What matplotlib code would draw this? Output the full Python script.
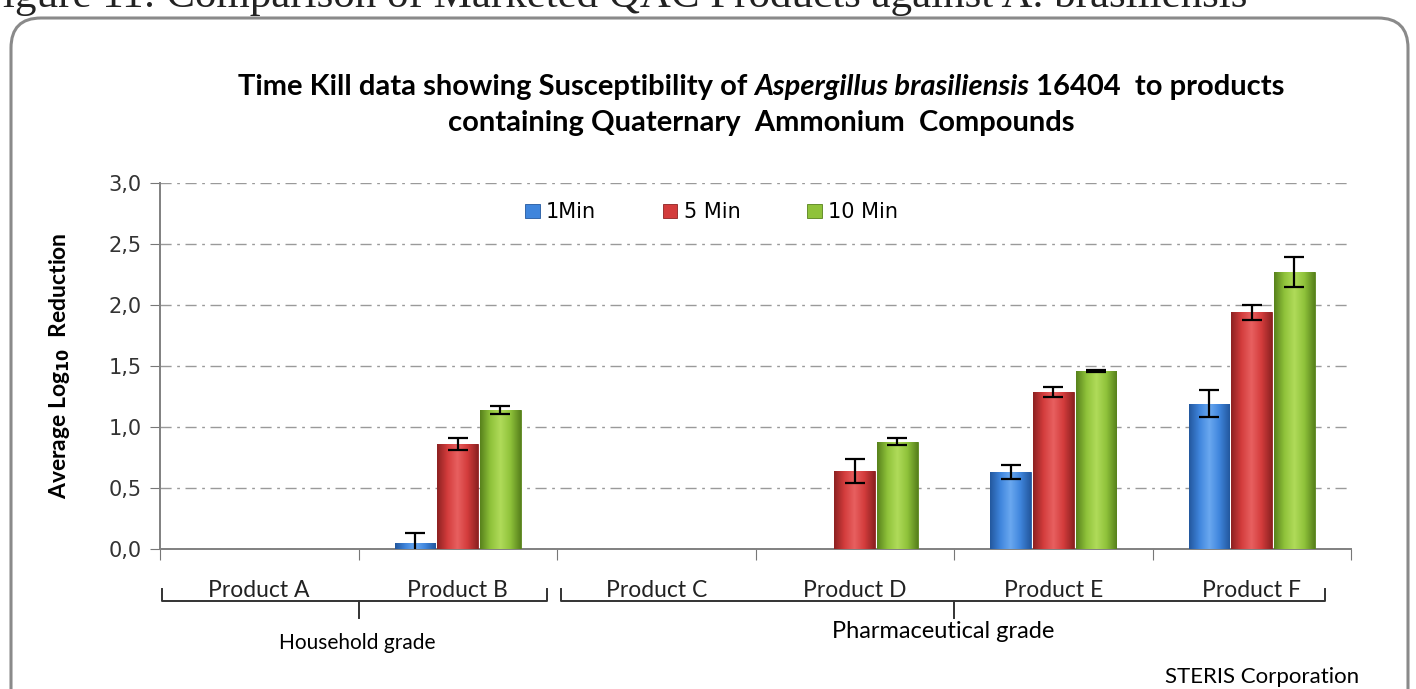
import numpy as np
from matplotlib import pyplot as plt
from matplotlib.patches import FancyBboxPatch
from matplotlib.lines import Line2D
from matplotlib.colors import LinearSegmentedColormap
from matplotlib.transforms import blended_transform_factory

# data
products = ["Product A", "Product B", "Product C", "Product D", "Product E", "Product F"]
series = ["1Min", "5 Min", "10 Min"]
vals_1min = [0.0, 0.05, 0.0, 0.0, 0.63, 1.19]
vals_5min = [0.0, 0.86, 0.0, 0.64, 1.29, 1.94]
vals_10min = [0.0, 1.14, 0.0, 0.88, 1.46, 2.27]
err_1min = [0.0, 0.08, 0.0, 0.0, 0.06, 0.11]
err_5min = [0.0, 0.05, 0.0, 0.10, 0.04, 0.06]
err_10min = [0.0, 0.03, 0.0, 0.03, 0.01, 0.12]
groups = [("Household grade", 0, 1), ("Pharmaceutical grade", 2, 5)]
yticks = [0.0, 0.5, 1.0, 1.5, 2.0, 2.5, 3.0]

colors = ["#3f85dc", "#d33c3c", "#8fc23a"]
darks = ["#23589f", "#8e2222", "#58821c"]
lights = ["#6aa8f0", "#e86060", "#b0db5a"]

W, H = 1416, 689
fig = plt.figure(figsize=(W / 100, H / 100), dpi=100)
fig.patch.set_facecolor("white")

# rounded frame of the chart area
frame = FancyBboxPatch((11, -40), 1397, 711, boxstyle="round,pad=0,rounding_size=30",
                       transform=None, facecolor="none", edgecolor="#8a8a8a", lw=2.2)
fig.add_artist(frame)

# caption above the frame (cut by the top edge, as in the source)
fig.text(-0.015, 1 - 7 / H, "Figure 11: Comparison of Marketed QAC Products against A. brasiliensis",
         ha="left", va="baseline", fontsize=31, family="Liberation Serif", color="#222222")

ax = fig.add_axes([160 / W, 140 / H, (1351 - 160) / W, 366 / H])

x = np.arange(len(products))
bw = 0.215
all_vals = [vals_1min, vals_5min, vals_10min]
all_errs = [err_1min, err_5min, err_10min]
prof = np.linspace(-1, 1, 64)
for i, (name, v, e) in enumerate(zip(series, all_vals, all_errs)):
    off = (i - 1) * bw
    bars = ax.bar(x + off, v, width=bw * 0.95, color=colors[i], edgecolor=darks[i],
                  linewidth=0.6, label=name, zorder=3)
    cmap = LinearSegmentedColormap.from_list("c%d" % i, [darks[i], colors[i], lights[i],
                                                         colors[i], darks[i]])
    grad = np.tile((prof + 1) / 2, (2, 1))
    for b in bars:
        if b.get_height() <= 0:
            continue
        bx, by = b.get_x(), b.get_y()
        im = ax.imshow(grad, cmap=cmap, aspect="auto", zorder=3.1,
                       extent=(bx, bx + b.get_width(), by, by + b.get_height()))
        im.set_clip_path(b)
    v = np.array(v)
    e = np.array(e)
    mask = e > 0
    ax.errorbar(x[mask] + off, v[mask], yerr=e[mask], fmt="none", ecolor="black",
                elinewidth=1.6, capsize=7, capthick=1.6, zorder=4)

ax.set_xlim(-0.5, len(products) - 0.5)
ax.set_ylim(0, 3.0)
ax.set_yticks(yticks)
ax.set_yticklabels([f"{t:.1f}".replace(".", ",") for t in yticks], fontsize=15,
                   family="DejaVu Sans", color="#333333")
ax.yaxis.grid(True, linestyle=(0, (8, 4, 2, 4)), color="#9a9a9a", linewidth=1.0)
ax.set_axisbelow(True)

ax.set_xticks(np.arange(-0.5, len(products)), minor=False)
ax.set_xticklabels([])
ax.set_xticks(x, minor=True)
ax.set_xticklabels(products, minor=True, fontsize=16.5, family="Lato", color="#222222")
ax.tick_params(axis="x", which="major", length=8, color="#777777", direction="out")
ax.tick_params(axis="x", which="minor", length=0, pad=22)
ax.tick_params(axis="y", length=7, color="#777777", pad=6)

for s in ["top", "right"]:
    ax.spines[s].set_visible(False)
for s in ["left", "bottom"]:
    ax.spines[s].set_color("#808080")
    ax.spines[s].set_linewidth(1.4)

ax.set_ylabel("Average Log$_{\\mathbf{10}}$  Reduction", fontsize=16.5, fontweight="bold",
              family="Lato")
ax.yaxis.set_label_coords(-(160 - 72) / (1351 - 160), 0.5)

leg = ax.legend(loc="center", bbox_to_anchor=(0.463, 0.92), ncol=3, frameon=False,
                handlelength=0.7, handleheight=0.7, handletextpad=0.3,
                columnspacing=3.2, prop={"family": "DejaVu Sans", "size": 15})

# brackets under categories
tr = blended_transform_factory(ax.transData, fig.transFigure)
yb = 1 - 601 / H
ye = 1 - 589 / H
yt = 1 - 618 / H
ends = [(-0.49, 1.45), (1.52, 5.37)]
for (label, a, b), (x0, x1) in zip(groups, ends):
    xm = (a + b) / 2
    fig.add_artist(Line2D([x0, x0, x1, x1], [ye, yb, yb, ye], transform=tr,
                          color="#333333", lw=1.4))
    fig.add_artist(Line2D([xm, xm], [yb, yt], transform=tr, color="#333333", lw=1.4))

fig.text(357 / W, 1 - 643 / H, "Household grade", ha="center", va="center",
         fontsize=15, family="Lato")
fig.text(943 / W, 1 - 631 / H, "Pharmaceutical grade", ha="center", va="center",
         fontsize=17, family="Lato")
fig.text(1262 / W, 1 - 677 / H, "STERIS Corporation", ha="center", va="center",
         fontsize=16, family="Lato")

# title with italic species name
fig.canvas.draw()
renderer = fig.canvas.get_renderer()
parts = [("Time Kill data showing Susceptibility of ", "normal"),
         ("Aspergillus brasiliensis", "italic"),
         (" 16404  to products", "normal")]
texts = []
for s, st in parts:
    t = fig.text(0, 1 - 87 / H, s, fontsize=21, fontweight="bold", style=st,
                 family="Lato", va="center", ha="left")
    texts.append(t)
widths = [t.get_window_extent(renderer).width for t in texts]
total = sum(widths)
cx = 761
start = cx - total / 2
for t, w in zip(texts, widths):
    t.set_x(start / W)
    start += w
fig.text(cx / W, 1 - 123 / H, "containing Quaternary  Ammonium  Compounds", fontsize=21,
         fontweight="bold", family="Lato", ha="center", va="center")

fig.savefig("out.png", dpi=100)
